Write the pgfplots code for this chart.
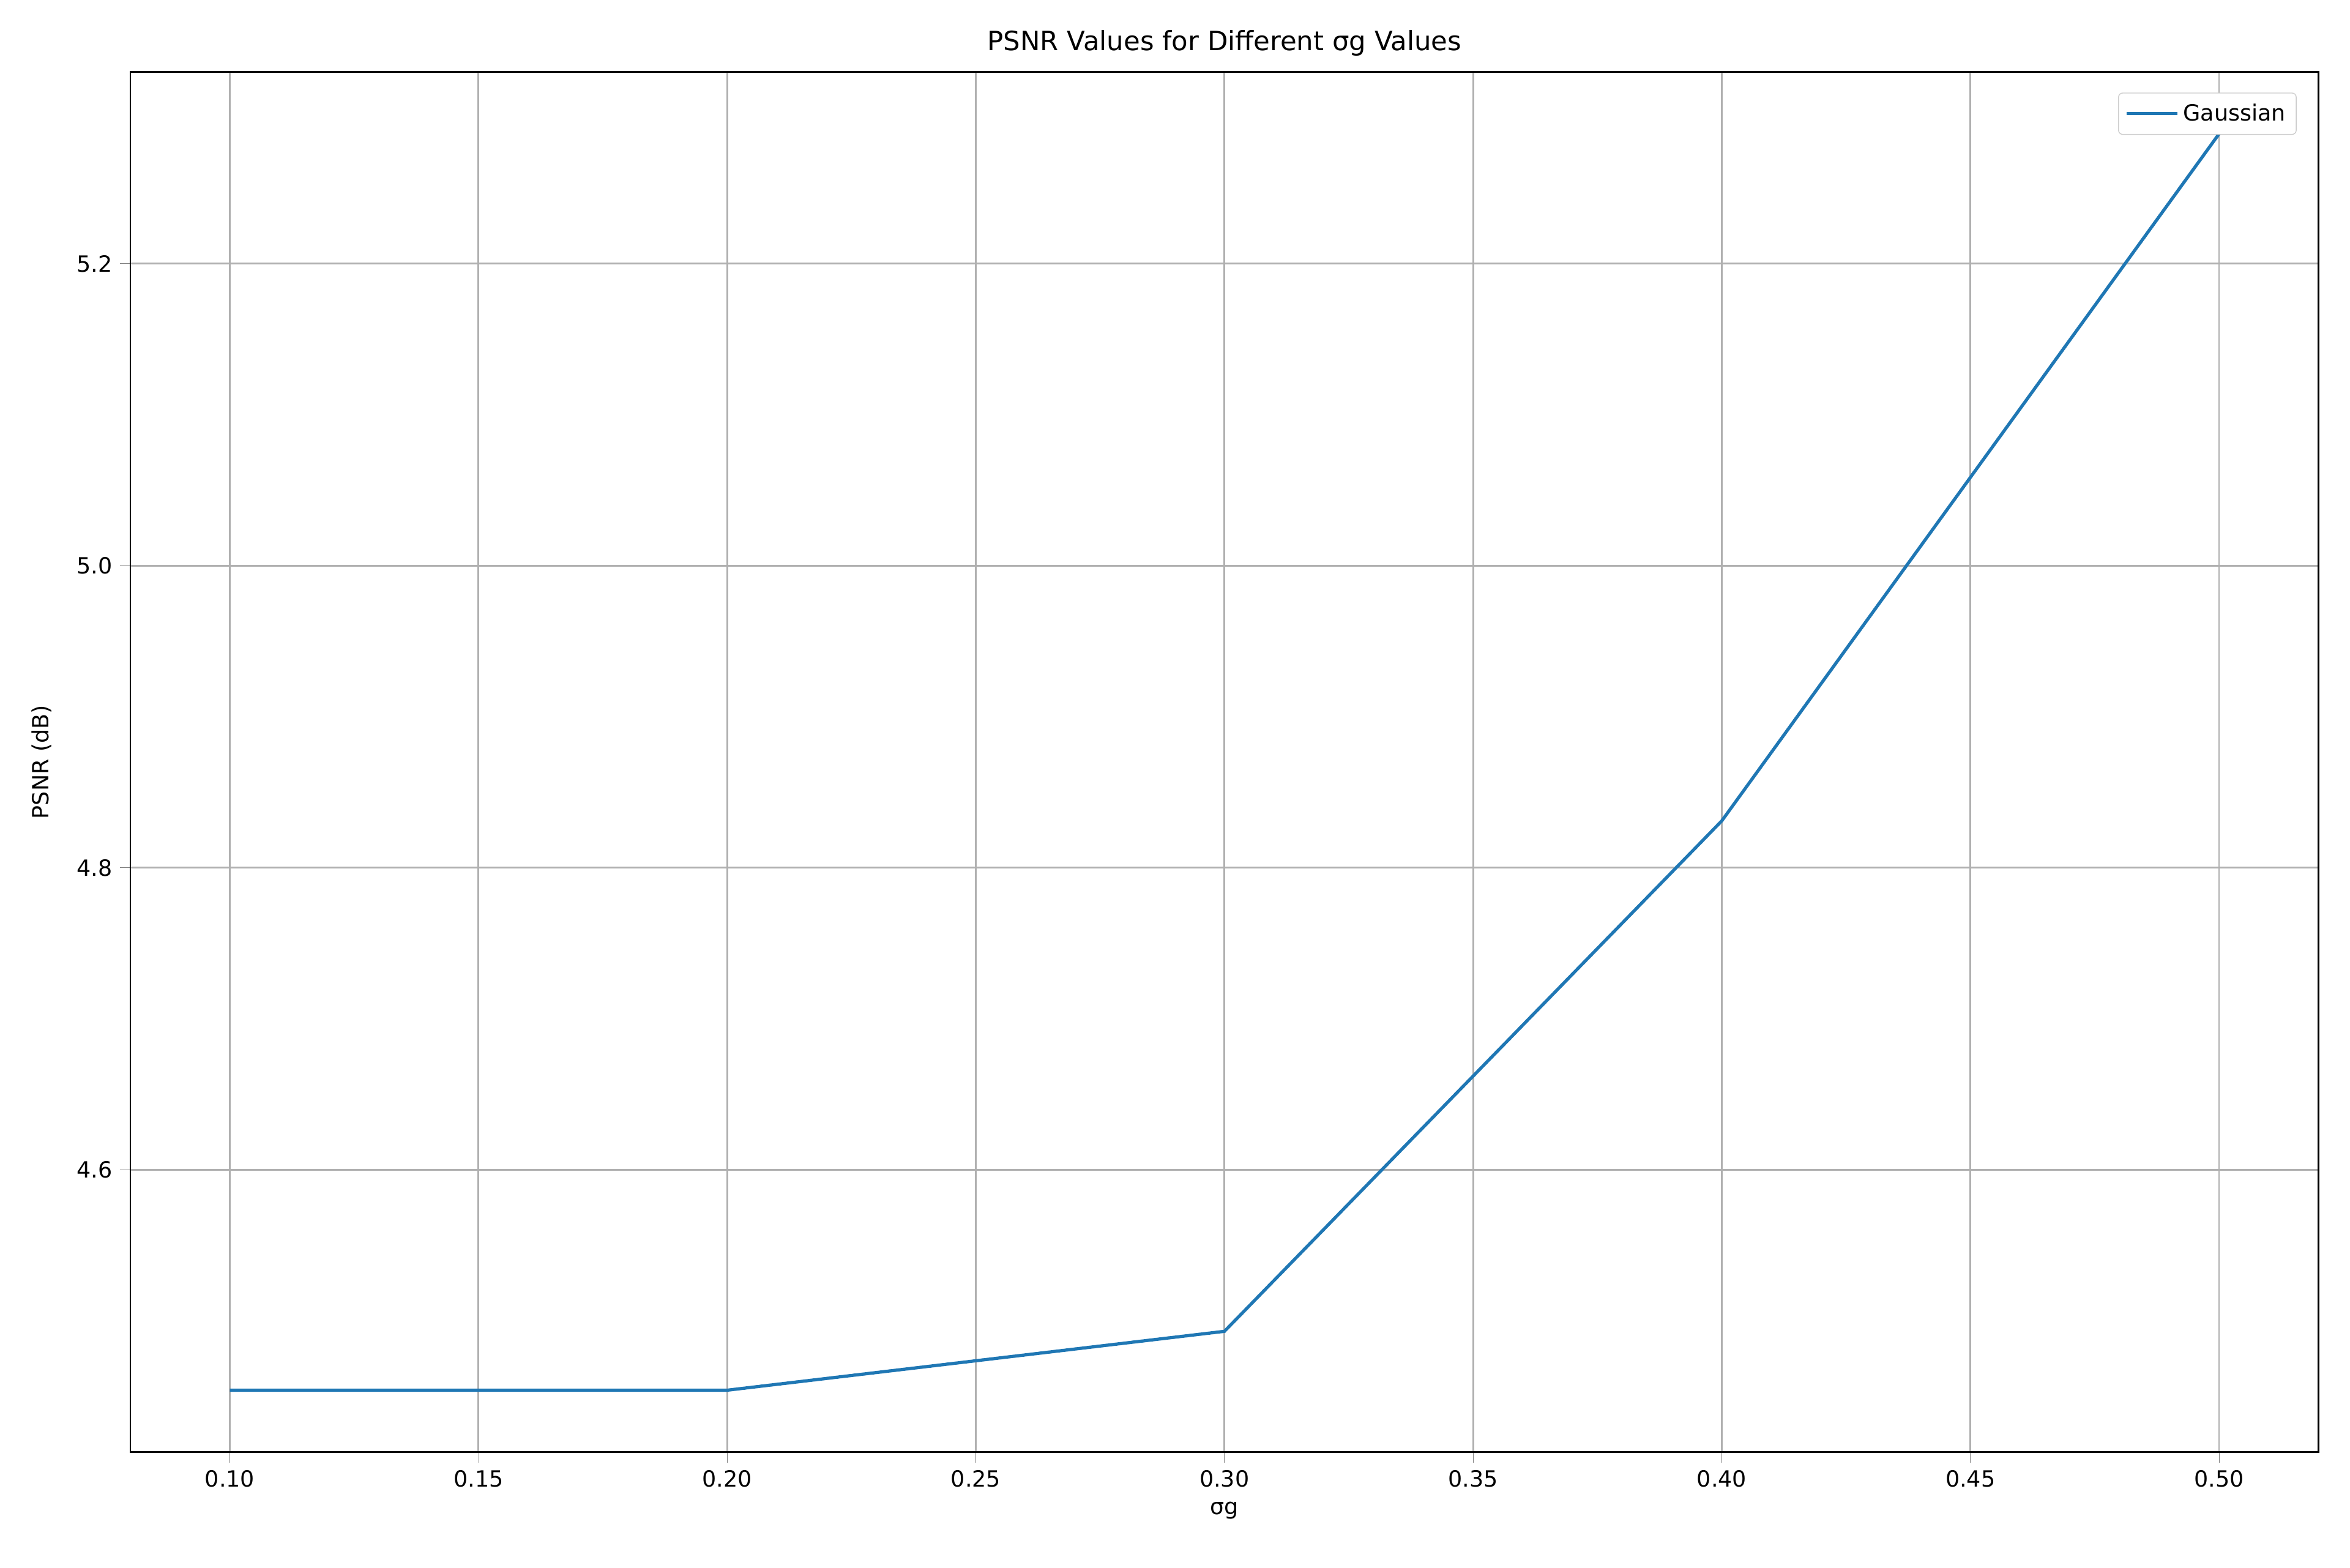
\documentclass[border=0pt]{standalone}
\usepackage{pgfplots}
\pgfplotsset{compat=1.18}
\usepackage{fontspec}
\setmainfont{DejaVu Sans}
\definecolor{mplblue}{HTML}{1F77B4}
\begin{document}
\begin{tikzpicture}
\begin{axis}[
  scale only axis, width=1029pt, height=649pt,
  xmin=0.08, xmax=0.52, ymin=4.413, ymax=5.327,
  xtick={0.1,0.15,...,0.51}, ytick={4.6,4.8,5.0,5.2},
  /pgf/number format/assume math mode=true,
  ticklabel style={font=\fontsize{10.5}{12}\selectfont},
  xticklabel style={/pgf/number format/fixed,/pgf/number format/fixed zerofill,/pgf/number format/precision=2},
  yticklabel style={/pgf/number format/fixed,/pgf/number format/fixed zerofill,/pgf/number format/precision=1},
  tick align=outside, tick pos=lower, major tick length=5pt,
  grid=major, grid style={color=black!31, line width=0.8pt},
  axis line style={line width=0.8pt},
  title={PSNR Values for Different σg Values},
  xlabel={σg}, ylabel={PSNR (dB)},
  label style={font=\fontsize{10.5}{12}\selectfont},
  ylabel style={yshift=5pt},
  title style={font=\fontsize{12.5}{14}\selectfont, yshift=-2pt},
  legend style={font=\fontsize{10.5}{12}\selectfont, draw=black!20, rounded corners=2pt, at={(0.99,0.985)}, anchor=north east, inner sep=3pt},
  legend image post style={xscale=1.4},
  legend cell align=left,
]
\addplot[color=mplblue, line width=1.5pt] coordinates {
 (0.1,4.454) (0.2,4.454) (0.3,4.493) (0.4,4.831) (0.5,5.286)};
\addlegendentry{Gaussian}
\coordinate (ll) at (rel axis cs:0,0);
\coordinate (ur) at (rel axis cs:1,1);
\end{axis}
\useasboundingbox ([xshift=-61.3pt,yshift=-54.3pt]ll) rectangle ([xshift=14.8pt,yshift=33.8pt]ur);
\end{tikzpicture}
\end{document}
